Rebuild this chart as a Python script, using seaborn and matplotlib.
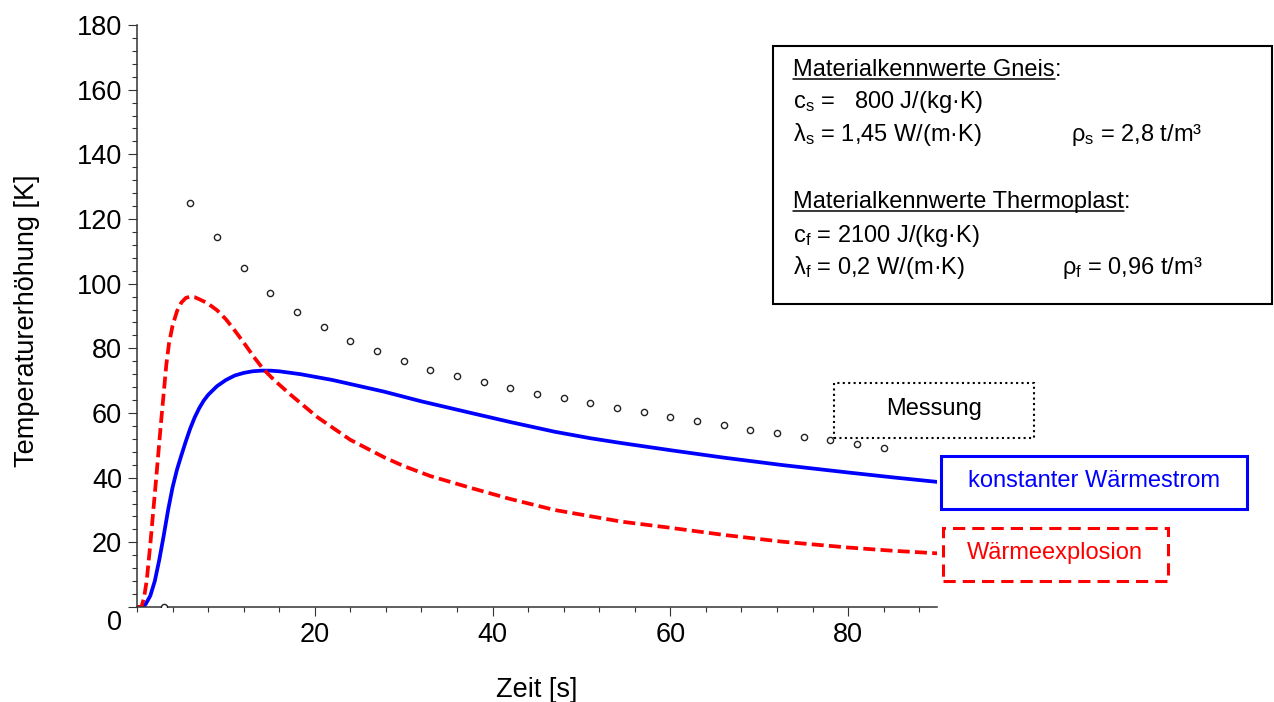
import numpy as np
import pandas as pd
import matplotlib
matplotlib.use('Agg')
import matplotlib.pyplot as plt
import seaborn as sns
from matplotlib.patches import Rectangle
from matplotlib.lines import Line2D
from matplotlib.ticker import MultipleLocator
from matplotlib.transforms import ScaledTranslation

# ================= Daten =================
# Modell: konstanter Wärmestrom
t_konst = [0, 0.7, 1.0, 1.5, 2.0, 2.5, 3.0, 3.5, 4.0, 4.5, 5.0, 5.5, 6.0, 6.5,
           7.0, 7.5, 8.0, 9.0, 10.0, 11.0, 12.0, 13.0, 14.0, 15.0, 16.0,
           18.4, 22.0, 27.8, 32.0, 37.6, 42.0, 47.0, 51.0, 54.5, 60.0, 66.0,
           72.6, 80.0, 85.0, 90.0]
T_konst = [0, 0, 1.0, 3.5, 8.0, 14.5, 22.0, 30.0, 37.0, 42.5, 47.0, 51.3, 55.3, 58.7,
           61.5, 63.8, 65.6, 68.3, 70.2, 71.6, 72.4, 72.9, 73.1, 73.1, 72.9,
           72.0, 70.2, 66.6, 63.6, 60.0, 57.2, 54.2, 52.2, 50.7, 48.5, 46.2,
           43.9, 41.6, 40.1, 38.7]

# Modell: Wärmeexplosion
t_expl = [0, 0.5, 0.8, 1.1, 1.5, 1.84, 2.1, 2.4, 2.7, 3.0, 3.3, 3.6, 4.0, 4.5,
          5.0, 5.5, 6.0, 6.5, 7.0, 7.9, 9.0, 10.0, 11.0, 12.0, 13.1, 14.2,
          15.5, 17.3, 20.3, 24.0, 27.8, 30.0, 33.0, 37.6, 42.0, 47.0, 54.5,
          60.0, 66.0, 72.6, 80.0, 85.0, 90.0]
T_expl = [0, 0, 3.0, 8.3, 19.5, 30.0, 38.0, 47.5, 57.0, 66.0, 75.0, 81.5, 87.0, 91.5,
          94.2, 95.6, 96.0, 95.8, 95.2, 94.0, 91.8, 89.0, 85.5, 81.8, 77.5, 73.6,
          70.0, 65.6, 58.7, 51.7, 46.3, 43.6, 40.5, 36.8, 33.4, 30.0, 26.4,
          24.5, 22.3, 20.2, 18.4, 17.4, 16.6]

# Messung
t_mess = [3, 6, 9, 12, 15, 18, 21, 24, 27, 30, 33, 36, 39, 42,
          45, 48, 51, 54, 57, 60, 63, 66, 69, 72, 75, 78, 81, 84]
T_mess = [0, 125.0, 114.4, 104.8, 97.1, 91.2, 86.6, 82.3, 79.2, 76.1, 73.3, 71.5, 69.6, 67.7,
          65.9, 64.6, 63.1, 61.6, 60.3, 58.8, 57.5, 56.3, 54.7, 53.8, 52.6, 51.7, 50.4, 49.2]

y_ticks = [0, 20, 40, 60, 80, 100, 120, 140, 160, 180]
x_ticks = [20, 40, 60, 80]

W, H = 1274, 702


def fx(px):
    return px / W


def fy(py):
    return 1 - py / H


sns.set_style('ticks')
plt.rcParams['font.family'] = ['Liberation Sans', 'DejaVu Sans']
plt.rcParams['mathtext.default'] = 'regular'
for key in ['text.color', 'axes.labelcolor', 'xtick.labelcolor', 'ytick.labelcolor']:
    plt.rcParams[key] = 'black'

fig = plt.figure(figsize=(W / 100, H / 100), dpi=100)
ax = fig.add_axes([fx(137), fy(607), (937 - 137) / W, (607 - 25) / H])

df_k = pd.DataFrame({'t': t_konst, 'T': T_konst})
df_e = pd.DataFrame({'t': t_expl, 'T': T_expl})
df_m = pd.DataFrame({'t': t_mess, 'T': T_mess})

sns.lineplot(data=df_k, x='t', y='T', ax=ax, color='#0000ff', lw=2.7,
             estimator=None, sort=False)
sns.lineplot(data=df_e, x='t', y='T', ax=ax, color='#ff0000', lw=2.7,
             estimator=None, sort=False)
ax.lines[-1].set_dashes((3.2, 1.4))
sns.scatterplot(data=df_m, x='t', y='T', ax=ax, s=20, facecolor='white',
                edgecolor='#222222', linewidth=1.0, zorder=5)

ax.set_xlim(0, 90)
ax.set_ylim(0, 180)
ax.set_xticks(x_ticks)
ax.set_yticks(y_ticks)
ax.xaxis.set_minor_locator(MultipleLocator(4))
ax.yaxis.set_minor_locator(MultipleLocator(4))
ax.tick_params(which='major', length=6.5, width=0.8, color='#333333',
               labelsize=19.5, pad=4.3)
ax.tick_params(which='minor', length=3.6, width=0.8, color='#333333')
for side in ['top', 'right']:
    ax.spines[side].set_visible(False)
for side in ['left', 'bottom']:
    ax.spines[side].set_color('#333333')
    ax.spines[side].set_linewidth(1.1)
ax.patch.set_alpha(0)

ax.set_xlabel('Zeit [s]', fontsize=19.5)
ax.xaxis.label.set_va('baseline')
ax.xaxis.set_label_coords(0.5, (607 - 697) / 582)
ax.set_ylabel('Temperaturerhöhung [K]', fontsize=19.5)
ax.yaxis.label.set_va('center')
ax.yaxis.set_label_coords((27 - 137) / 800, (607 - 321) / 582)

# Info-Kasten Materialkennwerte
fig.add_artist(Rectangle((fx(773), fy(304)), (1272 - 773) / W, (304 - 46) / H,
                         transform=fig.transFigure, fill=False, ec='black', lw=1.5))
fs = 17
head1 = fig.text(fx(793), fy(76), 'Materialkennwerte Gneis', fontsize=fs, va='baseline')
fig.text(fx(793), fy(108), 'c$_s$ =   800 J/(kg·K)', fontsize=fs, va='baseline')
fig.text(fx(793), fy(141), 'λ$_s$ = 1,45 W/(m·K)', fontsize=fs, va='baseline')
fig.text(fx(1071), fy(141), 'ρ$_s$ = 2,8 t/m³', fontsize=fs, va='baseline')
head2 = fig.text(fx(793), fy(208), 'Materialkennwerte Thermoplast', fontsize=fs, va='baseline')
fig.text(fx(793), fy(242), 'c$_f$ = 2100 J/(kg·K)', fontsize=fs, va='baseline')
fig.text(fx(793), fy(274), 'λ$_f$ = 0,2 W/(m·K)', fontsize=fs, va='baseline')
fig.text(fx(1062), fy(274), 'ρ$_f$ = 0,96 t/m³', fontsize=fs, va='baseline')

# Legendenkästen
fig.add_artist(Rectangle((fx(834), fy(438)), (1034 - 834) / W, (438 - 383) / H,
                         transform=fig.transFigure, fill=False, ec='black', lw=1.5,
                         linestyle=(0, (1, 1.6))))
fig.text(fx(934), fy(409), 'Messung', fontsize=fs, ha='center', va='center')
fig.add_artist(Rectangle((fx(941), fy(509)), (1247 - 941) / W, (509 - 456) / H,
                         transform=fig.transFigure, fill=False, ec='#0000ff', lw=2.2))
fig.text(fx(1094), fy(481), 'konstanter Wärmestrom', fontsize=fs, ha='center',
         va='center', color='#0000ff')
fig.add_artist(Rectangle((fx(943), fy(581)), (1168 - 943) / W, (581 - 528) / H,
                         transform=fig.transFigure, fill=False, ec='#ff0000', lw=2.2,
                         linestyle=(0, (4, 2.3))))
fig.text(fx(1055), fy(553), 'Wärmeexplosion', fontsize=fs, ha='center',
         va='center', color='#ff0000')

# Unterstreichungen und Doppelpunkte
fig.canvas.draw()
r = fig.canvas.get_renderer()
for head, base in [(head1, 76), (head2, 208)]:
    bb = head.get_window_extent(r)
    fig.add_artist(Line2D([bb.x0 / W, bb.x1 / W], [fy(base + 3), fy(base + 3)],
                          transform=fig.transFigure, color='black', lw=1.1))
    fig.text(bb.x1 / W, fy(base), ':', fontsize=fs, va='baseline')

# "0" etwas nach unten versetzt
for lab in ax.get_yticklabels():
    if lab.get_text() == '0':
        lab.set_transform(lab.get_transform() +
                          ScaledTranslation(0, -13 / 100, fig.dpi_scale_trans))

fig.savefig('out.png', dpi=100)
